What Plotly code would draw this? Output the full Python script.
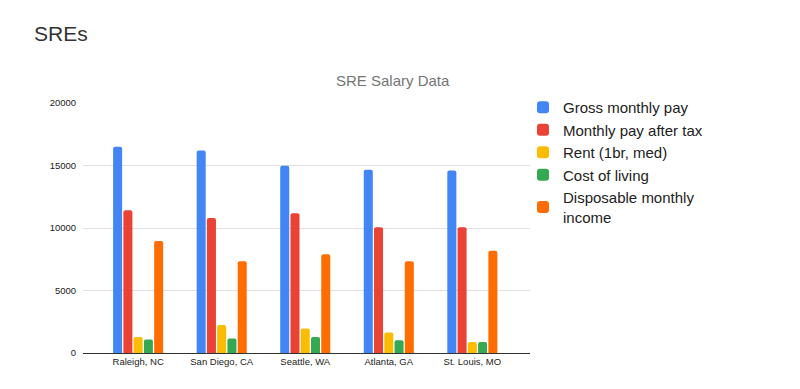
import plotly.graph_objects as go

cities = ["Raleigh, NC", "San Diego, CA", "Seattle, WA", "Atlanta, GA", "St. Louis, MO"]
gross = [16510, 16210, 14990, 14660, 14610]
after_tax = [11430, 10810, 11190, 10060, 10060]
rent = [1290, 2250, 1960, 1640, 880]
cost_of_living = [1080, 1160, 1290, 1020, 880]
disposable = [8970, 7340, 7900, 7340, 8190]

series = [
    ("Gross monthly pay", gross, "#4285F4"),
    ("Monthly pay after tax", after_tax, "#EA4335"),
    ("Rent (1br, med)", rent, "#FBBC04"),
    ("Cost of living", cost_of_living, "#34A853"),
    ("Disposable monthly<br>income", disposable, "#FF6D01"),
]

fig = go.Figure()
for name, vals, color in series:
    fig.add_trace(go.Bar(x=cities, y=vals, name=name, marker_color=color,
                         marker_line_width=0))

# page body has an 8px margin, so figure coords = screen coords - 8
W, H = 792, 381
L, R, T, B = 75, 270, 95, 36
PW, PH = W - L - R, H - T - B


def px(x):
    return (x - 8 - L) / PW


def py(y):
    return (H - B - (y - 8)) / PH


font = "Arial, Liberation Sans, sans-serif"
fig.update_layout(
    width=W, height=H,
    margin=dict(l=L, r=R, t=T, b=B),
    paper_bgcolor="white", plot_bgcolor="white",
    barmode="group", bargap=0.386, bargroupgap=0.12, barcornerradius=2,
    font=dict(family=font, color="#222222"),
    showlegend=True,
    legend=dict(x=px(523), xanchor="left", y=py(91), yanchor="top",
                font=dict(size=15, color="#222222"), itemwidth=30,
                tracegroupgap=4, traceorder="normal",
                bgcolor="rgba(0,0,0,0)"),
    annotations=[
        dict(text="SREs", x=px(32), y=py(33), xref="paper", yref="paper",
             xanchor="left", yanchor="middle", showarrow=False,
             font=dict(size=21, color="#333333", family=font)),
        dict(text="SRE Salary Data", x=px(392.5), y=py(81), xref="paper", yref="paper",
             xanchor="center", yanchor="middle", showarrow=False,
             font=dict(size=15, color="#757575", family=font)),
    ],
)

fig.update_xaxes(range=[-0.66, 4.69], showgrid=False, showline=True,
                 linecolor="#333333", linewidth=1, ticks="",
                 tickfont=dict(size=9.5, color="#222222"))
fig.update_yaxes(range=[0, 20000], tickvals=[0, 5000, 10000, 15000, 20000],
                 ticktext=["0", "5000", "10000", "15000", "20000"],
                 showgrid=True, gridcolor="#e0e0e0", gridwidth=1,
                 zeroline=False, showline=False, ticks="outside", ticklen=4,
                 tickcolor="white", tickfont=dict(size=9.5, color="#222222"))

fig.write_html("out.html")
